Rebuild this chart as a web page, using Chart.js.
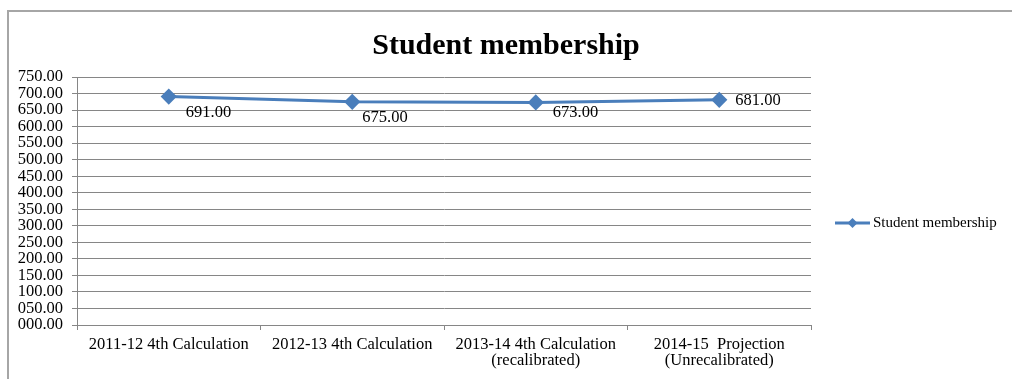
<!DOCTYPE html>
<html>
<head>
<meta charset="utf-8">
<script src="https://cdn.jsdelivr.net/npm/chart.js@4"></script>
<style>
  body { margin: 0; background: #fff; }
  #wrap { position: relative; width: 1012px; height: 379px; }
  #frame { position: absolute; left: 7px; top: 10px; width: 1100px; height: 400px;
           border-left: 2px solid #a6a6a6; border-top: 2px solid #a6a6a6; pointer-events: none; }
</style>
</head>
<body>
<div id="wrap">
  <canvas id="myLineChart" width="1012" height="379"></canvas>
  <div id="frame"></div>
</div>
<script>
// Data
const categories = [
  "2011-12 4th Calculation",
  "2012-13 4th Calculation",
  ["2013-14 4th Calculation", "(recalibrated)"],
  ["2014-15  Projection", "(Unrecalibrated)"]
];
const seriesName = "Student membership";
const membership = [691, 675, 673, 681];
const yTicks = [0, 50, 100, 150, 200, 250, 300, 350, 400, 450, 500, 550, 600, 650, 700, 750];

const lineColor = "#4a7ebb";
const serif = "'Liberation Serif', 'Times New Roman', serif";

// Label placement like the Excel data labels (offset from each point)
const labelOffsets = [[17, 16], [10, 16], [17, 10], [16, 1]];

// Start Data Labels plugin
const dataLabels = {
  id: "dataLabels",
  afterDatasetsDraw(chart) {
    const ctx = chart.ctx;
    const meta = chart.getDatasetMeta(0);
    ctx.save();
    ctx.font = "16.5px " + serif;
    ctx.fillStyle = "#000";
    ctx.textAlign = "left";
    ctx.textBaseline = "middle";
    meta.data.forEach((pt, i) => {
      const off = labelOffsets[i];
      ctx.fillText(membership[i].toFixed(2), pt.x + off[0], pt.y + off[1]);
    });
    ctx.restore();
  },
};
// End Data Labels plugin

// Start Legend plugin
const sideLegend = {
  id: "sideLegend",
  afterDraw(chart) {
    const ctx = chart.ctx;
    const x = chart.chartArea.right + 24;
    const y = 223;
    ctx.save();
    ctx.strokeStyle = lineColor;
    ctx.lineWidth = 3;
    ctx.beginPath();
    ctx.moveTo(x, y);
    ctx.lineTo(x + 35, y);
    ctx.stroke();
    ctx.fillStyle = lineColor;
    ctx.beginPath();
    ctx.moveTo(x + 17.5, y - 5);
    ctx.lineTo(x + 22.5, y);
    ctx.lineTo(x + 17.5, y + 5);
    ctx.lineTo(x + 12.5, y);
    ctx.closePath();
    ctx.fill();
    ctx.font = "15px " + serif;
    ctx.fillStyle = "#000";
    ctx.textBaseline = "middle";
    ctx.fillText(seriesName, x + 38, y);
    ctx.restore();
  },
};
// End Legend plugin

const line_ctx = document.getElementById("myLineChart");

const lineChart = new Chart(line_ctx, {
  type: "line",
  data: {
    labels: categories,
    datasets: [
      {
        label: seriesName,
        data: membership,
        borderColor: lineColor,
        backgroundColor: lineColor,
        borderWidth: 3,
        pointStyle: "rectRot",
        pointRadius: 6,
        pointHoverRadius: 6,
        tension: 0,
        yAxisID: "y",
      },
    ],
  },
  options: {
    responsive: false,
    animation: false,
    events: [],
    layout: {
      padding: 0,
    },
    scales: {
      x: {
        offset: true,
        grid: {
          offset: true,
          drawOnChartArea: false,
          drawTicks: true,
          tickLength: 5,
          color: "#868686",
        },
        border: { color: "#868686", width: 1 },
        ticks: {
          color: "#000",
          font: { family: serif, size: 16.5, lineHeight: 1.0 },
          maxRotation: 0,
          autoSkip: false,
          padding: 6,
        },
        afterFit(scale) {
          scale.height = 54;
        },
      },
      y: {
        min: 0,
        max: 750,
        afterBuildTicks(scale) {
          scale.ticks = yTicks.map((v) => ({ value: v }));
        },
        grid: {
          color: "#868686",
          tickLength: 5,
        },
        border: { color: "#868686", width: 1 },
        ticks: {
          color: "#000",
          font: { family: serif, size: 16.5 },
          padding: 9,
          autoSkip: false,
          callback: (v) => Number(v).toFixed(2).padStart(6, "0"),
        },
        afterFit(scale) {
          scale.width = 77;
        },
      },
      // empty right-hand strip that leaves room for the legend
      legendSpace: {
        position: "right",
        min: 0,
        max: 750,
        grid: { display: false },
        border: { display: false },
        ticks: { display: false },
        afterFit(scale) {
          scale.width = 201;
        },
      },
    },
    plugins: {
      legend: { display: false },
      tooltip: { enabled: false },
      title: {
        display: true,
        text: "Student membership",
        color: "#000",
        font: { family: serif, size: 30, weight: "bold" },
        padding: { top: 28, bottom: 13 },
      },
    },
  },
  plugins: [dataLabels, sideLegend],
});
</script>
</body>
</html>
